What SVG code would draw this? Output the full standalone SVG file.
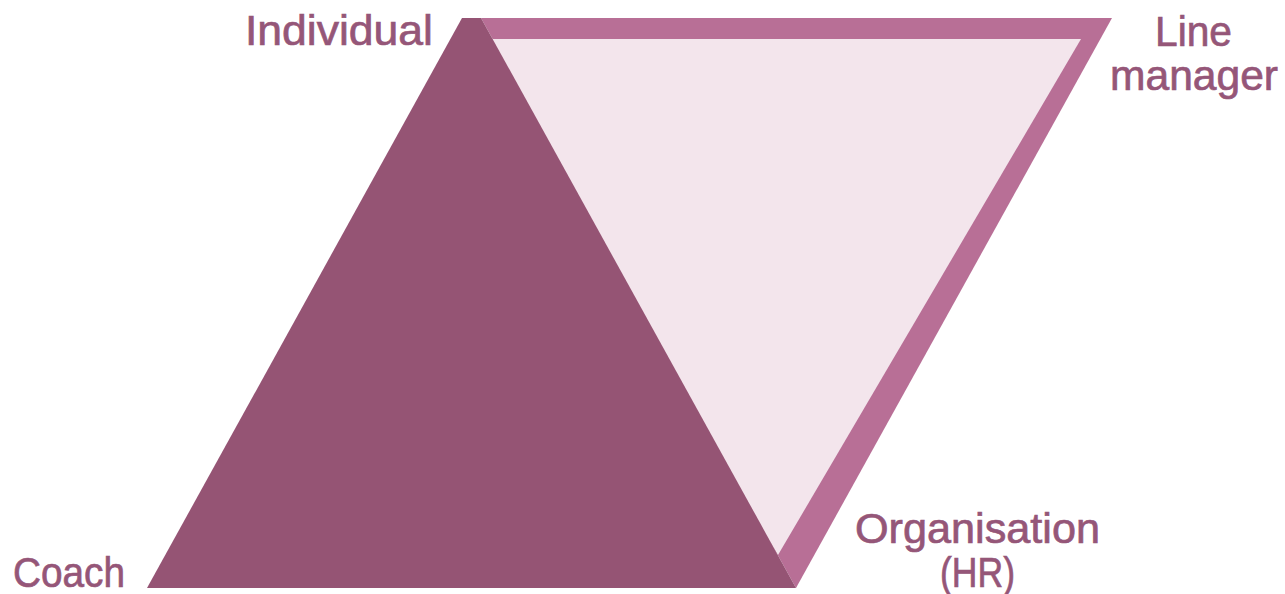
<svg xmlns="http://www.w3.org/2000/svg" width="1285" height="594" viewBox="0 0 1285 594">
<style>
.lbl{font-family:"Liberation Sans",Arial,sans-serif;font-size:43px;fill:#955678;stroke:#955678;stroke-width:0.7px}
</style>
<rect width="1285" height="594" fill="#ffffff"/>
<g id="line-manager-triangle">
<polygon points="481,18 1112,18 796,588" fill="#b86f96"/>
<polygon points="470,39 1081,39 778,555" fill="#f3e5ec"/>
</g>
<g id="coach-triangle">
<polygon points="462,18 481,18 796,588 147,588" fill="#955474"/>
</g>
<g id="connectors"></g>
<g id="individual"><text class="lbl" x="245" y="45" textLength="188" lengthAdjust="spacingAndGlyphs">Individual</text></g>
<g id="line-manager">
<text class="lbl" x="1155" y="46" textLength="77" lengthAdjust="spacingAndGlyphs">Line</text>
<text class="lbl" x="1110" y="90" textLength="168" lengthAdjust="spacingAndGlyphs">manager</text>
</g>
<g id="organisation">
<text class="lbl" x="855" y="543" textLength="245" lengthAdjust="spacingAndGlyphs">Organisation</text>
<text class="lbl" x="940" y="587" textLength="75" lengthAdjust="spacingAndGlyphs">(HR)</text>
</g>
<g id="coach"><text class="lbl" x="13" y="587" textLength="112" lengthAdjust="spacingAndGlyphs">Coach</text></g>
</svg>
